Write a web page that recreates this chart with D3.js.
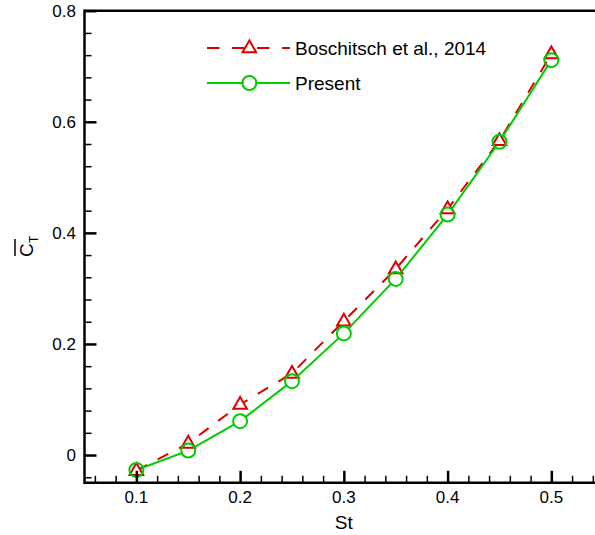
<!DOCTYPE html>
<html><head><meta charset="utf-8">
<script src="https://cdn.jsdelivr.net/npm/d3@7"></script>
<style>body{margin:0;background:#fff}svg{display:block}text{font-family:"Liberation Sans",Arial,sans-serif;fill:#000}</style>
</head><body>
<svg id="c" width="595" height="535"></svg>
<script>
const st = [0.1, 0.15, 0.2, 0.25, 0.3, 0.35, 0.4, 0.45, 0.5];
const boschitsch = [-0.028, 0.021, 0.091, 0.147, 0.241, 0.335, 0.443, 0.566, 0.722];
const present = [-0.027, 0.008, 0.061, 0.133, 0.219, 0.317, 0.433, 0.564, 0.711];
const xTicks = [0.1, 0.2, 0.3, 0.4, 0.5];
const yTicks = [0, 0.2, 0.4, 0.6, 0.8];
const seriesNames = ["Boschitsch et al., 2014", "Present"];
const xLabel = "St";

const svg = d3.select("#c");
const x = d3.scaleLinear().domain([0.05, 0.55]).range([84.5, 603.2]);
const y = d3.scaleLinear().domain([-0.05, 0.8]).range([482.8, 10.7]);
const red = "#dd0000", green = "#00cc00";

// masks for line gaps at markers
const defs = svg.append("defs");
function makeMask(id, pts, r) {
  const m = defs.append("mask").attr("id", id).attr("maskUnits", "userSpaceOnUse")
    .attr("x", 0).attr("y", 0).attr("width", 595).attr("height", 535);
  m.append("rect").attr("width", 595).attr("height", 535).attr("fill", "#fff");
  m.selectAll("circle").data(pts).join("circle")
    .attr("cx", d => d[0]).attr("cy", d => d[1]).attr("r", r).attr("fill", "#000");
}
const redPts = st.map((s, i) => [x(s), y(boschitsch[i])]);
const greenPts = st.map((s, i) => [x(s), y(present[i])]);
const legRed = [x(0.1) + 113, 48], legGreen = [x(0.1) + 113, 83];
makeMask("mr", redPts.concat([legRed]), 4.5);
makeMask("mg", greenPts.concat([legGreen]), 6);

const tri = "M0,-7.5L6.8,4.3L-6.8,4.3Z";
const line = d3.line().x(d => d[0]).y(d => d[1]);

// red series
svg.append("path").attr("d", line(redPts)).attr("fill", "none").attr("stroke", red)
  .attr("stroke-width", 2).attr("stroke-dasharray", "12,12").attr("mask", "url(#mr)");
svg.selectAll(".tri").data(redPts).join("path").attr("class", "tri")
  .attr("transform", d => `translate(${d[0]},${d[1]})`).attr("d", tri)
  .attr("fill", "none").attr("stroke", red).attr("stroke-width", 2);

// green series
svg.append("path").attr("d", line(greenPts)).attr("fill", "none").attr("stroke", green)
  .attr("stroke-width", 2).attr("mask", "url(#mg)");
svg.selectAll(".circ").data(greenPts).join("circle").attr("class", "circ")
  .attr("cx", d => d[0]).attr("cy", d => d[1]).attr("r", 7)
  .attr("fill", "none").attr("stroke", green).attr("stroke-width", 2);

// legend
const lx0 = 207, lx1 = 290;
svg.append("path").attr("d", line([[lx0, legRed[1]], [lx1, legRed[1]]])).attr("stroke", red)
  .attr("stroke-width", 2).attr("stroke-dasharray", "12.5,12.5").attr("mask", "url(#mr)");
svg.append("path").attr("transform", `translate(${legRed[0]},${legRed[1]})`).attr("d", tri)
  .attr("fill", "none").attr("stroke", red).attr("stroke-width", 2);
svg.append("path").attr("d", line([[lx0, legGreen[1]], [lx1, legGreen[1]]])).attr("stroke", green)
  .attr("stroke-width", 2).attr("mask", "url(#mg)");
svg.append("circle").attr("cx", legGreen[0]).attr("cy", legGreen[1]).attr("r", 7)
  .attr("fill", "none").attr("stroke", green).attr("stroke-width", 2);
svg.append("text").attr("x", 295).attr("y", legRed[1]).attr("dy", "0.35em")
  .style("font-size", "19px").text(seriesNames[0]);
svg.append("text").attr("x", 295).attr("y", legGreen[1]).attr("dy", "0.35em")
  .style("font-size", "19px").text(seriesNames[1]);

// axes
const yMinor = d3.range(-0.04, 0.8, 0.04).filter(v => Math.abs(Math.round(v * 5) - v * 5) > 1e-6);
const xMinor = d3.range(0.06, 0.56, 0.02).filter(v => Math.abs(Math.round(v * 10) - v * 10) > 1e-6);

const gL = svg.append("g").attr("transform", `translate(${x(0.05)},0)`);
const axL = d3.axisRight(y).tickValues(yTicks).tickSize(12).tickFormat("");
gL.call(axL);
gL.append("g").call(d3.axisRight(y).tickValues(yMinor).tickSize(7).tickFormat(""));
gL.selectAll(".domain").remove();
gL.selectAll("line").attr("stroke", "#000").attr("stroke-width", 1.5);
gL.selectAll(".tick line").filter(function(){return +d3.select(this).attr("x2")===12;}).attr("stroke-width", 2.5);

const gB = svg.append("g").attr("transform", `translate(0,${y(-0.05)})`);
gB.call(d3.axisTop(x).tickValues(xTicks).tickSize(12).tickFormat(""));
gB.append("g").call(d3.axisTop(x).tickValues(xMinor).tickSize(7).tickFormat(""));
gB.selectAll(".domain").remove();
gB.selectAll("line").attr("stroke", "#000").attr("stroke-width", 1.5);
gB.selectAll(".tick line").filter(function(){return +d3.select(this).attr("y2")===-12;}).attr("stroke-width", 2.5);

// frame lines
svg.append("line").attr("x1", x(0.05)).attr("x2", 595).attr("y1", y(0.8)).attr("y2", y(0.8)).attr("stroke", "#000").attr("stroke-width", 2.5);
svg.append("line").attr("x1", x(0.05)).attr("x2", 595).attr("y1", y(-0.05)).attr("y2", y(-0.05)).attr("stroke", "#000").attr("stroke-width", 2.5);
svg.append("line").attr("x1", x(0.05)).attr("x2", x(0.05)).attr("y1", y(0.8) - 1.2).attr("y2", y(-0.05) + 1.2).attr("stroke", "#000").attr("stroke-width", 2.5);

// tick labels
svg.selectAll(".yl").data(yTicks).join("text").attr("class", "yl")
  .attr("x", 76).attr("y", d => y(d)).attr("dy", "0.35em").attr("text-anchor", "end")
  .style("font-size", "17px").text(d => d === 0 ? "0" : d3.format(".1f")(d));
svg.selectAll(".xl").data(xTicks).join("text").attr("class", "xl")
  .attr("x", d => x(d)).attr("y", 497).attr("dy", "0.35em").attr("text-anchor", "middle")
  .style("font-size", "17px").text(d => d3.format(".1f")(d));

// axis titles
svg.append("text").attr("x", x(0.3)).attr("y", 522).attr("dy", "0.35em").attr("text-anchor", "middle")
  .style("font-size", "19px").text(xLabel);
const gy = svg.append("g").attr("transform", "translate(26,250) rotate(-90)");
gy.append("text").attr("x", -7).attr("y", 7).style("font-size", "19px").text("C");
gy.append("text").attr("x", 7).attr("y", 12).style("font-size", "12px").text("T");
gy.append("line").attr("x1", -6).attr("x2", 11).attr("y1", -11).attr("y2", -11).attr("stroke", "#000").attr("stroke-width", 1.5);
</script>
</body></html>
